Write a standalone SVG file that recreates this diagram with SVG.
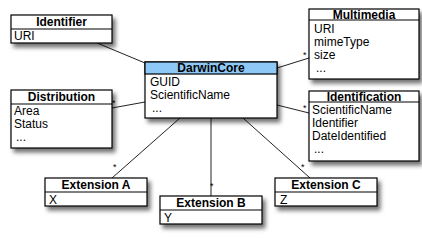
<svg xmlns="http://www.w3.org/2000/svg" width="422" height="240" viewBox="0 0 422 240">
  <defs>
    <filter id="shadow" x="-20%" y="-20%" width="150%" height="160%">
      <feDropShadow dx="3" dy="4" stdDeviation="2.2" flood-color="#000" flood-opacity="0.55"/>
    </filter>
  </defs>
  <style>
    .box { fill: #fff; stroke: #000; stroke-width: 1.2; filter: url(#shadow); }
    .head { fill: #fff; stroke: #000; stroke-width: 1.2; }
    .head.main { fill: #8ec8f6; }
    .sep { stroke: #000; stroke-width: 1.2; }
    .title { font-family: "Liberation Sans", Arial, sans-serif; font-size: 12px; font-weight: bold; text-anchor: middle; fill: #000; }
    .attr { font-family: "Liberation Sans", Arial, sans-serif; font-size: 12px; fill: #000; }
    .conn line { stroke: #222; stroke-width: 1; }
    .mult { font-family: "Liberation Sans", Arial, sans-serif; font-size: 9px; fill: #000; }
  </style>

  <!-- associations -->
  <g id="connectors" class="conn">
    <line x1="97" y1="43" x2="145" y2="63"/>
    <line x1="277" y1="68" x2="309" y2="58"/>
    <line x1="112" y1="108" x2="145" y2="102"/>
    <line x1="277" y1="105" x2="309" y2="113"/>
    <line x1="180" y1="118" x2="112" y2="178"/>
    <line x1="211" y1="118" x2="211" y2="196"/>
    <line x1="243" y1="118" x2="310" y2="178"/>
    <text class="mult" x="98" y="44">*</text>
    <text class="mult" x="303" y="58">*</text>
    <text class="mult" x="112" y="106">*</text>
    <text class="mult" x="303" y="111">*</text>
    <text class="mult" x="113" y="170">*</text>
    <text class="mult" x="210" y="189">*</text>
    <text class="mult" x="301" y="170">*</text>
  </g>

  <g id="identifier">
    <rect class="box" x="11" y="15" width="101" height="28"/>
    <line class="sep" x1="11" y1="29" x2="112" y2="29"/>
    <text class="title" x="61.5" y="26">Identifier</text>
    <text class="attr" x="14" y="40">URI</text>
  </g>

  <g id="darwincore">
    <rect class="box" x="145" y="62" width="132" height="56"/>
    <rect class="head main" x="145" y="62" width="132" height="12"/>
    <text class="title" x="211" y="72">DarwinCore</text>
    <text class="attr" x="150" y="86">GUID</text>
    <text class="attr" x="150" y="99">ScientificName</text>
    <text class="attr" x="152" y="112">...</text>
  </g>

  <g id="multimedia">
    <rect class="box" x="309" y="9" width="110" height="70"/>
    <line class="sep" x1="309" y1="20" x2="419" y2="20"/>
    <text class="title" x="364" y="18.5">Multimedia</text>
    <text class="attr" x="314" y="33">URI</text>
    <text class="attr" x="314" y="46">mimeType</text>
    <text class="attr" x="314" y="59">size</text>
    <text class="attr" x="316" y="72">...</text>
  </g>

  <g id="distribution">
    <rect class="box" x="11" y="90" width="101" height="58"/>
    <line class="sep" x1="11" y1="104" x2="112" y2="104"/>
    <text class="title" x="61.5" y="101">Distribution</text>
    <text class="attr" x="14" y="115">Area</text>
    <text class="attr" x="14" y="128">Status</text>
    <text class="attr" x="16" y="141">...</text>
  </g>

  <g id="identification">
    <rect class="box" x="309" y="91" width="110" height="70"/>
    <line class="sep" x1="309" y1="102" x2="419" y2="102"/>
    <text class="title" x="364" y="100.5">Identification</text>
    <text class="attr" x="312" y="114">ScientificName</text>
    <text class="attr" x="312" y="127">Identifier</text>
    <text class="attr" x="312" y="140">DateIdentified</text>
    <text class="attr" x="314" y="153">...</text>
  </g>

  <g id="extension-a">
    <rect class="box" x="45" y="178" width="102" height="28"/>
    <line class="sep" x1="45" y1="192" x2="147" y2="192"/>
    <text class="title" x="96" y="189">Extension A</text>
    <text class="attr" x="49" y="204">X</text>
  </g>

  <g id="extension-b">
    <rect class="box" x="160" y="196" width="102" height="28"/>
    <line class="sep" x1="160" y1="210" x2="262" y2="210"/>
    <text class="title" x="211" y="207">Extension B</text>
    <text class="attr" x="164" y="222">Y</text>
  </g>

  <g id="extension-c">
    <rect class="box" x="275" y="178" width="102" height="28"/>
    <line class="sep" x1="275" y1="192" x2="377" y2="192"/>
    <text class="title" x="326" y="189">Extension C</text>
    <text class="attr" x="280" y="204">Z</text>
  </g>
</svg>
